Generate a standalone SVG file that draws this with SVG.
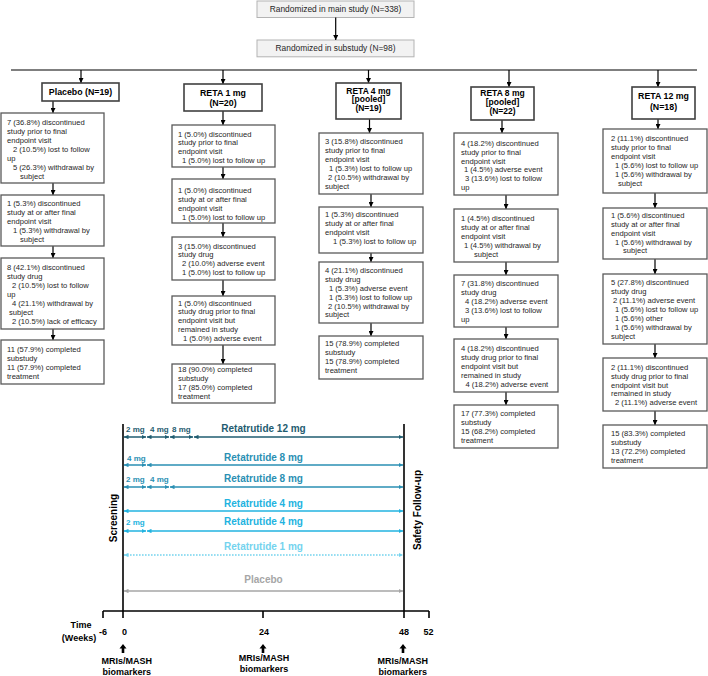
<svg xmlns="http://www.w3.org/2000/svg" width="708" height="676" viewBox="0 0 708 676">
<defs>
<style>
text{font-family:"Liberation Sans",Arial,sans-serif}
.box{fill:#fff;stroke:#595959;stroke-width:1.3}
.hbox{fill:#fff;stroke:#404040;stroke-width:1.6}
.gbox{fill:#f2f2f2;stroke:#b3b3b3;stroke-width:1}
.t{font-size:7.6px;fill:#262626}
.g{font-size:8.4px;fill:#262626;text-anchor:middle}
.h{font-size:8.8px;font-weight:bold;fill:#000;text-anchor:middle}
.h3{font-size:8.5px}
.fc line{stroke:#000;stroke-width:1.2;marker-end:url(#ah)}
.ax{stroke:#000;stroke-width:1.6;fill:none}
.tl{font-weight:bold;font-size:10px}
.sm{font-weight:bold;font-size:8px}
.ab{font-weight:bold;font-size:9px;fill:#000;text-anchor:middle}
.cA{stroke:#1f5c70;fill:#1f5c70}
.cB{stroke:#2a8fb3;fill:#2a8fb3}
.cD{stroke:#22b3e0;fill:#22b3e0}
.cF{stroke:#74d3ee;fill:#74d3ee}
.cG{stroke:#a6a6a6;fill:#a6a6a6}
.rows line{stroke-width:1.5}
.rows text{stroke:none}
</style>
<marker id="ah" markerUnits="userSpaceOnUse" markerWidth="5" markerHeight="5" viewBox="0 0 10 10" refX="10" refY="5" orient="auto"><path d="M0,0 L10,5 L0,10 z" fill="#000"/></marker>
<marker id="mA" markerUnits="userSpaceOnUse" markerWidth="4.5" markerHeight="4.5" viewBox="0 0 10 10" refX="10" refY="5" orient="auto-start-reverse"><path d="M0,0 L10,5 L0,10 z" fill="#1f5c70"/></marker>
<marker id="mB" markerUnits="userSpaceOnUse" markerWidth="4.5" markerHeight="4.5" viewBox="0 0 10 10" refX="10" refY="5" orient="auto-start-reverse"><path d="M0,0 L10,5 L0,10 z" fill="#2a8fb3"/></marker>
<marker id="mD" markerUnits="userSpaceOnUse" markerWidth="4.5" markerHeight="4.5" viewBox="0 0 10 10" refX="10" refY="5" orient="auto-start-reverse"><path d="M0,0 L10,5 L0,10 z" fill="#22b3e0"/></marker>
<marker id="mF" markerUnits="userSpaceOnUse" markerWidth="4.5" markerHeight="4.5" viewBox="0 0 10 10" refX="10" refY="5" orient="auto-start-reverse"><path d="M0,0 L10,5 L0,10 z" fill="#74d3ee"/></marker>
<marker id="mG" markerUnits="userSpaceOnUse" markerWidth="4.5" markerHeight="4.5" viewBox="0 0 10 10" refX="10" refY="5" orient="auto-start-reverse"><path d="M0,0 L10,5 L0,10 z" fill="#a6a6a6"/></marker>
</defs>
<rect width="708" height="676" fill="#fff"/>

<!-- top boxes -->
<g id="main"><rect class="gbox" x="257" y="1" width="157" height="16.5"/><text class="g" x="335.5" y="12.3">Randomized in main study (N=338)</text></g>
<g id="sub"><rect class="gbox" x="257" y="40" width="157" height="16.8"/><text class="g" x="335.5" y="51.3">Randomized in substudy (N=98)</text></g>

<!-- connectors -->
<g class="fc" id="connectors">
<line x1="335.7" y1="17.5" x2="335.7" y2="40"/>
<line x1="11" y1="70" x2="697" y2="70" style="marker-end:none"/>
<line x1="81" y1="70" x2="81" y2="83"/>
<line x1="223" y1="70" x2="223" y2="84"/>
<line x1="368.5" y1="70" x2="368.5" y2="83"/>
<line x1="509" y1="70" x2="509" y2="87"/>
<line x1="658" y1="70" x2="658" y2="87"/>
<!-- placebo -->
<line x1="53" y1="101" x2="53" y2="113"/>
<line x1="53" y1="183" x2="53" y2="195"/>
<line x1="53" y1="246" x2="53" y2="258"/>
<line x1="53" y1="329" x2="53" y2="340"/>
<!-- reta 1 -->
<line x1="223" y1="111" x2="223" y2="125"/>
<line x1="223" y1="167" x2="223" y2="179"/>
<line x1="223" y1="223" x2="223" y2="237"/>
<line x1="223" y1="280" x2="223" y2="296"/>
<line x1="223" y1="345" x2="223" y2="364"/>
<!-- reta 4 -->
<line x1="369.5" y1="119" x2="369.5" y2="133"/>
<line x1="371" y1="194" x2="371" y2="207"/>
<line x1="371" y1="253" x2="371" y2="262"/>
<line x1="371" y1="323" x2="371" y2="336"/>
<!-- reta 8 -->
<line x1="502" y1="120" x2="502" y2="133"/>
<line x1="506" y1="195" x2="506" y2="209"/>
<line x1="506" y1="262" x2="506" y2="275"/>
<line x1="506" y1="327" x2="506" y2="339"/>
<line x1="506" y1="392" x2="506" y2="405"/>
<!-- reta 12 -->
<line x1="658" y1="119" x2="658" y2="129"/>
<line x1="655" y1="193" x2="655" y2="208"/>
<line x1="655" y1="259" x2="655" y2="274"/>
<line x1="655" y1="344" x2="655" y2="358"/>
<line x1="655" y1="411" x2="655" y2="425"/>
</g>

<!-- Placebo column -->
<g id="placebo"><rect class="hbox" x="42" y="83" width="77" height="18"/><text class="h" x="80.5" y="95.3">Placebo (N=19)</text></g>
<g id="p1"><rect class="box" x="1" y="113" width="103" height="70"/><text class="t"><tspan x="7" y="124.5">7 (36.8%) discontinued</tspan><tspan x="7" y="133.5">study prior to final</tspan><tspan x="7" y="142.5">endpoint visit</tspan><tspan x="13" y="151.5">2 (10.5%) lost to follow</tspan><tspan x="7" y="160.5">up</tspan><tspan x="13" y="169.5">5 (26.3%) withdrawal  by</tspan><tspan x="20" y="178.5">subject</tspan></text></g>
<g id="p2"><rect class="box" x="1" y="195" width="103" height="51"/><text class="t"><tspan x="7" y="205.5">1 (5.3%) discontinued</tspan><tspan x="7" y="214.5">study at or after final</tspan><tspan x="7" y="223.5">endpoint visit</tspan><tspan x="13" y="232.5">1 (5.3%) withdrawal  by</tspan><tspan x="20" y="241.5">subject</tspan></text></g>
<g id="p3"><rect class="box" x="1" y="258" width="103" height="71"/><text class="t"><tspan x="7" y="269.5">8 (42.1%) discontinued</tspan><tspan x="7" y="278.5">study drug</tspan><tspan x="12" y="287.5">2 (10.5%) lost to follow</tspan><tspan x="7" y="296.5">up</tspan><tspan x="12" y="305.5">4 (21.1%) withdrawal  by</tspan><tspan x="9" y="314.5">subject</tspan><tspan x="12" y="323.5">2 (10.5%) lack of efficacy</tspan></text></g>
<g id="p4"><rect class="box" x="1" y="340" width="103" height="44"/><text class="t"><tspan x="7" y="352">11 (57.9%) completed</tspan><tspan x="7" y="361">substudy</tspan><tspan x="7" y="370">11 (57.9%) completed</tspan><tspan x="7" y="379">treatment</tspan></text></g>

<!-- RETA 1 mg -->
<g id="reta1"><rect class="hbox" x="184" y="84" width="78" height="27"/><text class="h"><tspan x="223" y="96.3">RETA 1 mg</tspan><tspan x="223" y="105.5">(N=20)</tspan></text></g>
<g id="r1a"><rect class="box" x="172" y="125" width="103" height="42"/><text class="t"><tspan x="178" y="136.5">1 (5.0%) discontinued</tspan><tspan x="178" y="145.4">study prior to final</tspan><tspan x="178" y="154.3">endpoint visit</tspan><tspan x="182" y="163.2">1 (5.0%) lost to follow up</tspan></text></g>
<g id="r1b"><rect class="box" x="172" y="179" width="103" height="44"/><text class="t"><tspan x="178" y="193">1 (5.0%) discontinued</tspan><tspan x="178" y="201.9">study at or after final</tspan><tspan x="178" y="210.8">endpoint visit</tspan><tspan x="182" y="219.7">1 (5.0%) lost to follow  up</tspan></text></g>
<g id="r1c"><rect class="box" x="172" y="237" width="103" height="43"/><text class="t"><tspan x="178" y="248.5">3 (15.0%) discontinued</tspan><tspan x="178" y="257.4">study drug</tspan><tspan x="182" y="266.3">2 (10.0%) adverse  event</tspan><tspan x="182" y="275.2">1 (5.0%) lost to follow  up</tspan></text></g>
<g id="r1d"><rect class="box" x="172" y="296" width="103" height="49"/><text class="t"><tspan x="178" y="305.5">1 (5.0%) discontinued</tspan><tspan x="178" y="314.4">study drug prior to final</tspan><tspan x="178" y="323.3">endpoint visit but</tspan><tspan x="178" y="332.2">remained in study</tspan><tspan x="183" y="341.1">1 (5.0%) adverse  event</tspan></text></g>
<g id="r1e"><rect class="box" x="172" y="364" width="103" height="39"/><text class="t"><tspan x="178" y="372">18 (90.0%) completed</tspan><tspan x="178" y="380.9">substudy</tspan><tspan x="178" y="389.8">17 (85.0%) completed</tspan><tspan x="178" y="398.7">treatment</tspan></text></g>

<!-- RETA 4 mg -->
<g id="reta4"><rect class="hbox" x="336" y="83" width="65" height="36"/><text class="h h3"><tspan x="368.5" y="93.5">RETA 4 mg</tspan><tspan x="368.5" y="102.3">[pooled]</tspan><tspan x="368.5" y="111.1">(N=19)</tspan></text></g>
<g id="r4a"><rect class="box" x="319" y="133" width="104" height="61"/><text class="t"><tspan x="325" y="144">3 (15.8%) discontinued</tspan><tspan x="325" y="153">study prior to final</tspan><tspan x="325" y="162">endpoint visit</tspan><tspan x="329" y="171">1 (5.3%) lost to follow  up</tspan><tspan x="328" y="180">2 (10.5%) withdrawal  by</tspan><tspan x="325" y="189">subject</tspan></text></g>
<g id="r4b"><rect class="box" x="319" y="207" width="104" height="46"/><text class="t"><tspan x="325" y="217">1 (5.3%) discontinued</tspan><tspan x="325" y="226">study at or after final</tspan><tspan x="325" y="235">endpoint visit</tspan><tspan x="333" y="244">1 (5.3%) lost to follow  up</tspan></text></g>
<g id="r4c"><rect class="box" x="319" y="262" width="104" height="61"/><text class="t"><tspan x="325" y="273">4 (21.1%) discontinued</tspan><tspan x="325" y="282">study drug</tspan><tspan x="329" y="291">1 (5.3%) adverse  event</tspan><tspan x="329" y="299.8">1 (5.3%) lost to follow  up</tspan><tspan x="328" y="308.6">2 (10.5%) withdrawal  by</tspan><tspan x="325" y="317.4">subject</tspan></text></g>
<g id="r4d"><rect class="box" x="319" y="336" width="104" height="43"/><text class="t"><tspan x="325" y="346">15 (78.9%) completed</tspan><tspan x="325" y="355">substudy</tspan><tspan x="325" y="364">15 (78.9%) completed</tspan><tspan x="325" y="372.8">treatment</tspan></text></g>

<!-- RETA 8 mg -->
<g id="reta8"><rect class="hbox" x="471" y="87" width="63" height="33"/><text class="h h3"><tspan x="502.5" y="95.5">RETA 8 mg</tspan><tspan x="502.5" y="104.5">[pooled]</tspan><tspan x="502.5" y="113.5">(N=22)</tspan></text></g>
<g id="r8a"><rect class="box" x="454" y="133" width="104" height="62"/><text class="t"><tspan x="461" y="145.5">4 (18.2%) discontinued</tspan><tspan x="461" y="154.5">study prior to final</tspan><tspan x="461" y="163.5">endpoint visit</tspan><tspan x="464" y="172.3">1 (4.5%) adverse  event</tspan><tspan x="465" y="181.1">3 (13.6%) lost to follow</tspan><tspan x="461" y="190">up</tspan></text></g>
<g id="r8b"><rect class="box" x="454" y="209" width="104" height="53"/><text class="t"><tspan x="461" y="220.5">1 (4.5%) discontinued</tspan><tspan x="461" y="229.5">study at or after final</tspan><tspan x="461" y="238.5">endpoint visit</tspan><tspan x="464" y="247.5">1 (4.5%) withdrawal  by</tspan><tspan x="474" y="256.5">subject</tspan></text></g>
<g id="r8c"><rect class="box" x="454" y="275" width="104" height="52"/><text class="t"><tspan x="461" y="286">7 (31.8%) discontinued</tspan><tspan x="461" y="295">study drug</tspan><tspan x="465" y="304.3">4 (18.2%) adverse  event</tspan><tspan x="465" y="313.3">3 (13.6%) lost to follow</tspan><tspan x="461" y="322">up</tspan></text></g>
<g id="r8d"><rect class="box" x="454" y="339" width="104" height="53"/><text class="t"><tspan x="461" y="351">4 (18.2%) discontinued</tspan><tspan x="461" y="360">study drug prior to final</tspan><tspan x="461" y="369">endpoint visit but</tspan><tspan x="461" y="378">remained in study</tspan><tspan x="465.5" y="387">4 (18.2%) adverse  event</tspan></text></g>
<g id="r8e"><rect class="box" x="454" y="405" width="104" height="43"/><text class="t"><tspan x="461" y="416">17 (77.3%) completed</tspan><tspan x="461" y="425">substudy</tspan><tspan x="461" y="434.3">15 (68.2%) completed</tspan><tspan x="461" y="443.3">treatment</tspan></text></g>

<!-- RETA 12 mg -->
<g id="reta12"><rect class="hbox" x="632" y="87" width="63" height="32"/><text class="h"><tspan x="663.5" y="99">RETA 12 mg</tspan><tspan x="663.5" y="110">(N=18)</tspan></text></g>
<g id="r12a"><rect class="box" x="603" y="129" width="104" height="64"/><text class="t"><tspan x="611" y="141">2 (11.1%) discontinued</tspan><tspan x="611" y="150">study prior to final</tspan><tspan x="611" y="159">endpoint visit</tspan><tspan x="615" y="168">1 (5.6%) lost to follow up</tspan><tspan x="615" y="177">1 (5.6%) withdrawal  by</tspan><tspan x="618" y="186">subject</tspan></text></g>
<g id="r12b"><rect class="box" x="603" y="208" width="104" height="51"/><text class="t"><tspan x="611" y="218">1 (5.6%) discontinued</tspan><tspan x="611" y="227">study at or after final</tspan><tspan x="611" y="235.8">endpoint visit</tspan><tspan x="615" y="244.6">1 (5.6%) withdrawal  by</tspan><tspan x="623" y="253.4">subject</tspan></text></g>
<g id="r12c"><rect class="box" x="603" y="274" width="104" height="70"/><text class="t"><tspan x="611" y="284.5">5 (27.8%) discontinued</tspan><tspan x="611" y="293.5">study drug</tspan><tspan x="613" y="302.5">2 (11.1%) adverse  event</tspan><tspan x="615" y="311.5">1 (5.6%) lost to follow  up</tspan><tspan x="615" y="320.5">1 (5.6%) other</tspan><tspan x="615" y="329.5">1 (5.6%) withdrawal  by</tspan><tspan x="611" y="338.5">subject</tspan></text></g>
<g id="r12d"><rect class="box" x="603" y="358" width="104" height="53"/><text class="t"><tspan x="611" y="369.5">2 (11.1%) discontinued</tspan><tspan x="611" y="378.5">study drug prior to final</tspan><tspan x="611" y="387.5">endpoint visit but</tspan><tspan x="611" y="396.3">remained in study</tspan><tspan x="615" y="405.1">2 (11.1%) adverse  event</tspan></text></g>
<g id="r12e"><rect class="box" x="603" y="425" width="104" height="43"/><text class="t"><tspan x="611" y="436">15 (83.3%) completed</tspan><tspan x="611" y="445">substudy</tspan><tspan x="611" y="454">13 (72.2%) completed</tspan><tspan x="611" y="463">treatment</tspan></text></g>

<!-- Timeline -->
<g id="timeline">
<line class="ax" x1="123" y1="424" x2="123" y2="618"/>
<line class="ax" x1="404" y1="424" x2="404" y2="618"/>
<line class="ax" x1="103" y1="611" x2="429" y2="611"/>
<line class="ax" x1="103" y1="611" x2="103" y2="618"/>
<line class="ax" x1="263" y1="611" x2="263" y2="618"/>
<line class="ax" x1="429" y1="611" x2="429" y2="618"/>
<text class="tl" transform="translate(116.5,518) rotate(-90)" text-anchor="middle">Screening</text>
<text class="tl" transform="translate(421,510) rotate(-90)" text-anchor="middle">Safety Follow-up</text>
<text class="ab" x="81" y="628">Time</text>
<text class="ab" x="79" y="640.5">(Weeks)</text>
<text class="ab" x="103" y="634.5">-6</text>
<text class="ab" x="124.5" y="634.5">0</text>
<text class="ab" x="264" y="634.5">24</text>
<text class="ab" x="404" y="634.5">48</text>
<text class="ab" x="428.5" y="634.5">52</text>
<path d="M123,644 L126.5,648.5 L124.3,648.5 L124.3,653 L121.7,653 L121.7,648.5 L119.5,648.5 Z" fill="#000"/>
<path d="M263,644 L266.5,648.5 L264.3,648.5 L264.3,653 L261.7,653 L261.7,648.5 L259.5,648.5 Z" fill="#000"/>
<path d="M403,644 L406.5,648.5 L404.3,648.5 L404.3,653 L401.7,653 L401.7,648.5 L399.5,648.5 Z" fill="#000"/>
<text class="ab"><tspan x="126.7" y="664">MRIs/MASH</tspan><tspan x="126.7" y="674.5">biomarkers</tspan></text>
<text class="ab"><tspan x="264" y="661">MRIs/MASH</tspan><tspan x="264" y="672">biomarkers</tspan></text>
<text class="ab"><tspan x="402.7" y="664">MRIs/MASH</tspan><tspan x="402.7" y="674.5">biomarkers</tspan></text>
</g>

<g class="rows" id="arms">
<g class="cA" style="marker-start:url(#mA);marker-end:url(#mA)">
<line x1="124" y1="437" x2="146" y2="437"/><line x1="147" y1="437" x2="169" y2="437"/><line x1="170" y1="437" x2="193" y2="437"/><line x1="194" y1="437" x2="403" y2="437"/>
<text class="sm" x="126" y="432">2 mg</text><text class="sm" x="150" y="432">4 mg</text><text class="sm" x="172" y="432">8 mg</text>
<text class="tl" x="263.5" y="432" text-anchor="middle">Retatrutide 12 mg</text>
</g>
<g class="cB" style="marker-start:url(#mB);marker-end:url(#mB)">
<line x1="124" y1="465" x2="146" y2="465"/><line x1="147" y1="465" x2="403" y2="465"/>
<text class="sm" x="127" y="461">4 mg</text>
<text class="tl" x="263.5" y="461" text-anchor="middle">Retatrutide 8 mg</text>
<line x1="124" y1="487" x2="146" y2="487"/><line x1="147" y1="487" x2="169" y2="487"/><line x1="170" y1="487" x2="403" y2="487"/>
<text class="sm" x="126" y="482">2 mg</text><text class="sm" x="150" y="482">4 mg</text>
<text class="tl" x="263.5" y="482" text-anchor="middle">Retatrutide 8 mg</text>
</g>
<g class="cD" style="marker-start:url(#mD);marker-end:url(#mD)">
<line x1="124" y1="511" x2="403" y2="511"/>
<text class="tl" x="263.5" y="507" text-anchor="middle">Retatrutide 4 mg</text>
<line x1="124" y1="531" x2="146" y2="531"/><line x1="147" y1="531" x2="403" y2="531"/>
<text class="sm" x="126" y="525">2 mg</text>
<text class="tl" x="263.5" y="525" text-anchor="middle">Retatrutide 4 mg</text>
</g>
<g class="cF" style="marker-start:url(#mF);marker-end:url(#mF)">
<line x1="124" y1="555" x2="403" y2="555" stroke-dasharray="1.6 1.4"/>
<text class="tl" x="263.5" y="550" text-anchor="middle">Retatrutide 1 mg</text>
</g>
<g class="cG" style="marker-start:url(#mG);marker-end:url(#mG)">
<line x1="124" y1="591" x2="403" y2="591"/>
<text class="tl" x="263.5" y="583" text-anchor="middle">Placebo</text>
</g>
</g>
</svg>
